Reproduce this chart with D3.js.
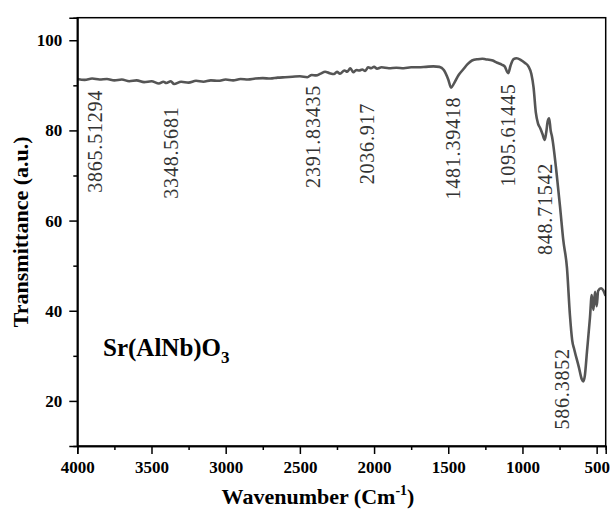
<!DOCTYPE html>
<html><head><meta charset="utf-8">
<script src="https://cdn.jsdelivr.net/npm/d3@7"></script>
<style>body{margin:0;background:#fff}svg{display:block}</style>
</head><body>
<svg id="c" width="611" height="511"></svg>
<script>
// ---- data ----
const wavenumber = [4000,3950,3900,3850,3800,3750,3700,3650,3600,3550,3500,3450,3420,3400,3370,3348,3300,3250,3200,3150,3100,3050,3000,2950,2900,2850,2800,2750,2700,2650,2600,2550,2500,2450,2420,2391,2360,2330,2300,2270,2250,2230,2200,2180,2160,2140,2120,2100,2080,2060,2040,2020,2000,1980,1950,1900,1850,1800,1750,1700,1650,1600,1560,1530,1500,1481,1460,1430,1400,1370,1340,1300,1270,1250,1200,1170,1140,1120,1096,1080,1060,1040,1010,985,960,940,925,910,895,880,865,850,840,830,820,810,800,770,745,725,700,680,665,650,620,600,590,580,565,545,533,522,511,500,490,470,455,440];
const transmittance = [91.4,91.2,91.5,91.3,91.4,91.1,91.3,90.9,91.1,90.7,90.9,90.4,90.8,90.5,90.9,90.3,90.8,90.6,91.0,90.8,91.1,91.0,91.3,91.1,91.4,91.3,91.5,91.6,91.5,91.7,91.8,91.9,92.0,91.8,92.3,92.2,92.6,93.0,92.7,92.5,93.0,92.6,93.3,93.0,93.8,92.9,93.4,93.3,93.5,93.2,94.0,93.8,94.1,93.7,94.0,93.8,93.9,93.8,94.0,94.0,94.1,94.2,94.1,93.4,91.3,89.5,90.5,92.3,93.5,94.7,95.5,95.8,95.9,95.8,95.5,95.0,94.6,94.2,92.7,94.4,95.8,96.0,95.6,95.0,94.2,92.5,89.5,84.0,81.5,80.5,79.2,77.9,79.5,82.0,82.7,80.0,78.5,70.5,62.5,55.7,49.5,39.0,33.5,31.3,27.5,24.8,24.3,25.5,31.0,38.5,43.5,40.2,44.2,41.0,44.4,45.0,44.5,43.3];
const xTicks = [4000,3500,3000,2500,2000,1500,1000,500];
const yTicks = [20,40,60,80,100];
const peakLabels = ["3865.51294","3348.5681","2391.83435","2036.917","1481.39418","1095.61445","848.71542","586.3852"];
const peakLabelWn = [3879,3367,2410,2048,1468,1099,848,736];
const peakLabelTop = [89.0,85.3,90.1,86.1,87.5,90.4,72.8,31.7];
const sampleName = "Sr(AlNb)O";
const sampleSub = "3";

// ---- layout ----
const W = 611, H = 511;
const m = {l:77.3, t:17.7, r:5.3, b:65};
const svg = d3.select("#c");
const x = d3.scaleLinear().domain([4000,439]).range([m.l, W-m.r]);
const y = d3.scaleLinear().domain([10,105]).range([H-m.b, m.t]);
const serif = "'Liberation Serif','Times New Roman',serif";

// curve
const data = wavenumber.map((w,i)=>({w, t:transmittance[i]}));
svg.append("defs").append("clipPath").attr("id","clip")
  .append("rect").attr("x",m.l).attr("y",m.t).attr("width",W-m.r-m.l).attr("height",H-m.b-m.t);
svg.append("path").datum(data)
  .attr("clip-path","url(#clip)")
  .attr("fill","none").attr("stroke","#555").attr("stroke-width",2.6)
  .attr("stroke-linejoin","round")
  .attr("d", d3.line().x(d=>x(d.w)).y(d=>y(d.t)).curve(d3.curveMonotoneX));

// frame
svg.append("rect").attr("x",m.l).attr("y",m.t).attr("width",W-m.r-m.l).attr("height",H-m.b-m.t)
  .attr("fill","none").attr("stroke","#000").attr("stroke-width",1.5);

// axes
const xMinor = d3.range(3750, 439, -500);
const gx = svg.append("g").attr("transform",`translate(0,${H-m.b})`);
gx.call(d3.axisBottom(x).tickValues(xTicks).tickSize(8).tickPadding(7).tickFormat(d3.format("d")));
const gxm = svg.append("g").attr("transform",`translate(0,${H-m.b})`);
gxm.call(d3.axisBottom(x).tickValues(xMinor).tickSize(4).tickFormat(""));
const yMinor = [30,50,70,90];
const gy = svg.append("g").attr("transform",`translate(${m.l},0)`);
gy.call(d3.axisLeft(y).tickValues(yTicks).tickSize(8).tickPadding(7));
const gym = svg.append("g").attr("transform",`translate(${m.l},0)`);
gym.call(d3.axisLeft(y).tickValues(yMinor).tickSize(4).tickFormat(""));
[gx,gxm,gy,gym].forEach(g=>{
  g.select(".domain").attr("stroke","#000").attr("stroke-width",1.5);
  g.selectAll(".tick line").attr("stroke","#000").attr("stroke-width",1.5);
  g.selectAll("text").attr("font-family",serif).attr("font-weight","bold").attr("font-size",17).attr("fill","#000");
});

// titles
const xt = svg.append("text").attr("x",318).attr("y",504).attr("text-anchor","middle")
  .attr("font-family",serif).attr("font-weight","bold").attr("font-size",22).attr("fill","#000");
xt.append("tspan").text("Wavenumber (Cm");
xt.append("tspan").attr("dy",-9).attr("font-size",14).text("-1");
xt.append("tspan").attr("dy",9).text(")");
svg.append("text").attr("transform",`translate(20,${(m.t+H-m.b)/2}) rotate(-90)`)
  .attr("text-anchor","middle").attr("dy","0.35em")
  .attr("font-family",serif).attr("font-weight","bold").attr("font-size",22).attr("fill","#000")
  .text("Transmittance (a.u.)");

// sample name
const st = svg.append("text").attr("x",103).attr("y",356)
  .attr("font-family",serif).attr("font-weight","bold").attr("font-size",25).attr("fill","#000");
st.append("tspan").text(sampleName);
st.append("tspan").attr("dy",7).attr("font-size",17).text(sampleSub);

// peak labels
svg.selectAll("text.pk").data(peakLabels).join("text").attr("class","pk")
  .attr("transform",(d,i)=>`translate(${x(peakLabelWn[i])},${y(peakLabelTop[i])}) rotate(-90)`)
  .attr("text-anchor","end").attr("dy","0.35em")
  .attr("font-family",serif).attr("font-size",20).attr("letter-spacing",0.8).attr("fill","#333")
  .text(d=>d);
</script>
</body></html>
